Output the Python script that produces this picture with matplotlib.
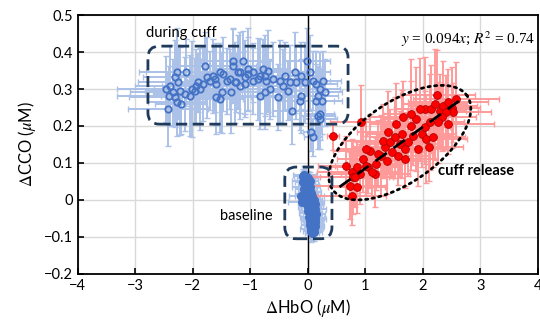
import numpy as np
import matplotlib as mpl
mpl.use('Agg')
import matplotlib.pyplot as plt
from matplotlib.patches import FancyBboxPatch

plt.rcParams['font.family'] = ['Lato', 'DejaVu Sans']
plt.rcParams['mathtext.fontset'] = 'stix'

# during cuff (open blue circles)
cuff_x = [-2.46, -2.43, -2.41, -2.40, -2.34, -2.31, -2.31, -2.28, -2.28, -2.26,
          -2.23, -2.20, -2.14, -2.11, -2.05, -2.02, -1.97, -1.94, -1.91, -1.88,
          -1.82, -1.79, -1.76, -1.70, -1.65, -1.62, -1.59, -1.59, -1.53, -1.53,
          -1.50, -1.47, -1.41, -1.36, -1.33, -1.30, -1.30, -1.27, -1.24, -1.21,
          -1.18, -1.18, -1.13, -1.10, -1.10, -1.04, -1.04, -0.95, -0.95, -0.86,
          -0.83, -0.83, -0.78, -0.75, -0.75, -0.72, -0.69, -0.66, -0.60, -0.52,
          -0.49, -0.43, -0.40, -0.34, -0.31, -0.28, -0.23, -0.20, -0.14, -0.11,
          -0.11, -0.05, -0.02, 0.03, 0.09, 0.15, 0.15, 0.18, 0.18, 0.21,
          0.21, 0.24, 0.27, 0.30, 0.21, 0.06, 0.09]
cuff_y = [0.300, 0.246, 0.282, 0.309, 0.291, 0.332, 0.278, 0.345, 0.264, 0.318,
          0.295, 0.259, 0.286, 0.345, 0.282, 0.300, 0.295, 0.309, 0.318, 0.300,
          0.314, 0.363, 0.332, 0.322, 0.336, 0.327, 0.314, 0.278, 0.345, 0.273,
          0.291, 0.341, 0.322, 0.327, 0.291, 0.376, 0.363, 0.318, 0.318, 0.345,
          0.309, 0.345, 0.376, 0.332, 0.314, 0.354, 0.341, 0.345, 0.322, 0.327,
          0.336, 0.282, 0.354, 0.336, 0.291, 0.322, 0.349, 0.300, 0.327, 0.278,
          0.322, 0.309, 0.336, 0.295, 0.318, 0.241, 0.345, 0.318, 0.268, 0.336,
          0.282, 0.318, 0.376, 0.345, 0.322, 0.314, 0.268, 0.282, 0.228, 0.300,
          0.219, 0.268, 0.322, 0.291, 0.232, 0.183, 0.169]
cuff_xerr = [0.85, 0.70, 0.90, 0.60, 0.75, 0.55, 0.80, 0.65, 0.50, 0.70,
             0.60, 0.45, 0.55, 0.70, 0.50, 0.65, 0.40, 0.60, 0.55, 0.45,
             0.60, 0.50, 0.55, 0.40, 0.65, 0.45, 0.50, 0.60, 0.55, 0.40,
             0.50, 0.45, 0.60, 0.50, 0.45, 0.55, 0.40, 0.50, 0.60, 0.45,
             0.55, 0.40, 0.50, 0.60, 0.45, 0.55, 0.40, 0.50, 0.45, 0.55,
             0.40, 0.50, 0.45, 0.55, 0.40, 0.50, 0.45, 0.40, 0.50, 0.45,
             0.40, 0.45, 0.40, 0.35, 0.40, 0.35, 0.40, 0.35, 0.40, 0.35,
             0.30, 0.35, 0.40, 0.35, 0.30, 0.35, 0.30, 0.35, 0.30, 0.35,
             0.30, 0.35, 0.30, 0.30, 0.25, 0.15, 0.15]
cuff_yerr = [0.09, 0.10, 0.08, 0.11, 0.09, 0.10, 0.08, 0.12, 0.09, 0.10,
             0.12, 0.08, 0.10, 0.09, 0.11, 0.13, 0.09, 0.10, 0.08, 0.11,
             0.10, 0.09, 0.11, 0.08, 0.10, 0.09, 0.11, 0.10, 0.08, 0.09,
             0.11, 0.10, 0.09, 0.08, 0.11, 0.09, 0.10, 0.11, 0.08, 0.10,
             0.09, 0.11, 0.08, 0.10, 0.09, 0.11, 0.10, 0.08, 0.09, 0.11,
             0.10, 0.09, 0.08, 0.11, 0.10, 0.09, 0.11, 0.08, 0.10, 0.09,
             0.11, 0.10, 0.09, 0.08, 0.10, 0.09, 0.11, 0.10, 0.08, 0.09,
             0.10, 0.11, 0.09, 0.10, 0.08, 0.09, 0.10, 0.08, 0.09, 0.10,
             0.08, 0.09, 0.08, 0.09, 0.07, 0.05, 0.05]

# cuff release (filled red circles)
rel_x = [0.44, 0.93, 0.67, 0.76, 0.85, 0.79, 0.90, 0.73, 0.85, 0.76,
         0.96, 1.05, 1.08, 1.02, 1.17, 1.28, 1.34, 1.31, 1.43, 1.46,
         1.51, 1.60, 1.57, 1.69, 1.63, 1.74, 1.80, 1.83, 1.92, 1.98,
         2.06, 2.18, 2.03, 2.12, 2.03, 2.15, 2.21, 2.30, 2.35, 2.44,
         2.50, 2.53, 2.41, 2.33, 2.27, 2.44, 1.89, 1.80, 1.66, 1.54,
         1.69, 1.37, 1.19, 1.02, 1.11, 0.82, 2.58, 1.22, 1.40, 2.10,
         1.95, 2.25]
rel_y = [0.174, 0.210, 0.093, 0.075, 0.088, 0.061, 0.070, 0.039, 0.034, 0.012,
         0.111, 0.088, 0.133, 0.138, 0.070, 0.120, 0.142, 0.160, 0.156, 0.129,
         0.169, 0.151, 0.120, 0.138, 0.178, 0.156, 0.201, 0.174, 0.138, 0.178,
         0.165, 0.169, 0.196, 0.210, 0.246, 0.246, 0.259, 0.241, 0.255, 0.264,
         0.250, 0.237, 0.237, 0.223, 0.210, 0.205, 0.219, 0.232, 0.223, 0.205,
         0.111, 0.106, 0.097, 0.093, 0.075, 0.061, 0.273, 0.125, 0.184, 0.142,
         0.245, 0.285]
rel_xerr = [0.10, 0.55, 0.50, 0.60, 0.45, 0.70, 0.55, 0.65, 0.50, 0.60,
            0.45, 0.55, 0.65, 0.50, 0.60, 0.45, 0.55, 0.70, 0.50, 0.60,
            0.45, 0.65, 0.55, 0.50, 0.60, 0.45, 0.55, 0.65, 0.50, 0.60,
            0.70, 0.55, 0.45, 0.60, 0.50, 0.65, 0.55, 0.45, 0.60, 0.70,
            0.50, 0.65, 0.55, 0.60, 0.45, 0.80, 0.55, 0.50, 0.60, 0.45,
            0.55, 0.60, 0.50, 0.55, 0.45, 0.60, 0.75, 0.50, 0.55, 0.60,
            0.45, 0.65]
rel_yerr = [0.04, 0.10, 0.08, 0.09, 0.07, 0.10, 0.08, 0.09, 0.07, 0.08,
            0.09, 0.07, 0.10, 0.08, 0.09, 0.11, 0.08, 0.10, 0.09, 0.07,
            0.11, 0.09, 0.08, 0.10, 0.12, 0.09, 0.12, 0.08, 0.10, 0.09,
            0.12, 0.08, 0.10, 0.13, 0.14, 0.12, 0.15, 0.10, 0.12, 0.09,
            0.11, 0.08, 0.10, 0.09, 0.11, 0.08, 0.14, 0.15, 0.10, 0.11,
            0.08, 0.09, 0.07, 0.08, 0.07, 0.08, 0.10, 0.09, 0.11, 0.09,
            0.14, 0.12]

# baseline (dense blue blob)
base_x = [-0.09, -0.06, -0.03, 0.00, 0.03, -0.08, -0.05, -0.02, 0.01, 0.04,
          -0.06, -0.03, 0.00, 0.03, 0.06, -0.04, -0.01, 0.02, 0.05, 0.08,
          -0.02, 0.01, 0.04, 0.07, 0.10, 0.00, 0.03, 0.06, 0.09, 0.12,
          0.01, 0.04, 0.07, 0.10, 0.13, 0.02, 0.05, 0.08, 0.11, 0.14,
          0.03, 0.06, 0.09, 0.12, 0.04, 0.07, 0.10, 0.13, 0.05, 0.08,
          0.11, 0.06, 0.09, 0.12, 0.08, 0.11, -0.12, -0.10]
base_y = [0.065, 0.068, 0.062, 0.058, 0.050, 0.048, 0.052, 0.045, 0.040, 0.035,
          0.030, 0.035, 0.028, 0.022, 0.018, 0.015, 0.012, 0.008, 0.005, 0.010,
          -0.002, -0.005, -0.010, -0.006, 0.000, -0.018, -0.020, -0.024, -0.015, -0.012,
          -0.030, -0.034, -0.038, -0.028, -0.025, -0.045, -0.048, -0.050, -0.042, -0.038,
          -0.058, -0.062, -0.055, -0.052, -0.068, -0.072, -0.066, -0.060, -0.078, -0.080,
          -0.075, -0.085, -0.082, -0.070, -0.090, -0.086, 0.010, -0.005]
base_xerr = [0.15, 0.20, 0.12, 0.18, 0.10, 0.15, 0.22, 0.14, 0.18, 0.12,
             0.16, 0.25, 0.15, 0.20, 0.12, 0.18, 0.22, 0.14, 0.16, 0.20,
             0.12, 0.18, 0.15, 0.22, 0.14, 0.16, 0.20, 0.12, 0.18, 0.15,
             0.14, 0.20, 0.16, 0.12, 0.18, 0.15, 0.14, 0.20, 0.12, 0.16,
             0.14, 0.12, 0.18, 0.20, 0.15, 0.12, 0.16, 0.14, 0.18, 0.12,
             0.15, 0.14, 0.12, 0.16, 0.12, 0.14, 0.20, 0.24]
base_yerr = [0.020, 0.025, 0.030, 0.020, 0.025, 0.030, 0.020, 0.025, 0.030, 0.020,
             0.025, 0.030, 0.020, 0.025, 0.030, 0.020, 0.025, 0.030, 0.020, 0.025,
             0.030, 0.020, 0.025, 0.030, 0.020, 0.025, 0.030, 0.020, 0.025, 0.030,
             0.020, 0.025, 0.030, 0.020, 0.025, 0.030, 0.020, 0.025, 0.030, 0.020,
             0.025, 0.030, 0.020, 0.025, 0.030, 0.020, 0.025, 0.030, 0.025, 0.020,
             0.025, 0.030, 0.025, 0.020, 0.020, 0.025, 0.020, 0.025]

fit_x = [0.55, 2.65]
fit_y = [0.035, 0.270]

x_ticks = [-4, -3, -2, -1, 0, 1, 2, 3, 4]
y_ticks = [-0.2, -0.1, 0, 0.1, 0.2, 0.3, 0.4, 0.5]
y_labels = ['\u22120.2', '\u22120.1', '0', '0.1', '0.2', '0.3', '0.4', '0.5']
x_labels = ['\u22124', '\u22123', '\u22122', '\u22121', '0', '1', '2', '3', '4']

blue = '#4472C4'
blue_err = '#ABC1E8'
red = '#FF0000'
red_err = '#FF9A9A'
navy = '#1F3A5A'

fig = plt.figure(figsize=(5.4, 3.28), dpi=100)
ax = fig.add_axes([0.144, 0.165, 0.852, 0.789])

ax.errorbar(cuff_x, cuff_y, xerr=cuff_xerr, yerr=cuff_yerr, fmt='none',
            ecolor=blue_err, elinewidth=1.4, capsize=2, zorder=2)
ax.errorbar(base_x, base_y, xerr=base_xerr, yerr=base_yerr, fmt='none',
            ecolor=blue_err, elinewidth=1.4, capsize=2, zorder=2)
ax.errorbar(rel_x, rel_y, xerr=rel_xerr, yerr=rel_yerr, fmt='none',
            ecolor=red_err, elinewidth=1.4, capsize=2, zorder=2)

ax.plot(cuff_x, cuff_y, 'o', ms=4.6, mfc='none', mec=blue, mew=1.3, zorder=4)
ax.plot(base_x, base_y, 'o', ms=5.5, mfc=blue, mec=blue, mew=1.0, zorder=4)
ax.plot(rel_x, rel_y, 'o', ms=5.6, mfc=red, mec='#B00000', mew=0.6, zorder=4)

ax.axvline(0, color='black', lw=1.0, zorder=3)

# fitted line and dotted ellipse around cuff release
ax.plot(fit_x, fit_y, color='black', lw=2, dashes=(5, 3), zorder=5)
t = np.linspace(0, 2 * np.pi, 300)
ang = np.radians(35)
a_px, b_px = 82, 40
ex = a_px * np.cos(t) * np.cos(ang) - b_px * np.sin(t) * np.sin(ang)
ey = a_px * np.cos(t) * np.sin(ang) + b_px * np.sin(t) * np.cos(ang)
ax.plot(1.6 + ex / 57.5, 0.155 + ey / 370, color='black', lw=2,
        linestyle=(0, (0.8, 1.6)), dash_capstyle='round', zorder=5)

# dashed rounded boxes
for (x0, y0, w, h) in [(-2.78, 0.205, 3.48, 0.211), (-0.40, -0.105, 0.82, 0.194)]:
    box = FancyBboxPatch((x0, y0), w, h, boxstyle='round,pad=0,rounding_size=0.2',
                         mutation_aspect=0.155, fill=False, edgecolor=navy,
                         lw=2, linestyle=(0, (4, 2)), zorder=5)
    ax.add_patch(box)

ax.text(-2.82, 0.452, 'during cuff', fontsize=10.5, va='center', ha='left')
ax.text(-1.53, -0.043, 'baseline', fontsize=10.5, va='center', ha='left')
ax.text(2.26, 0.078, 'cuff release', fontsize=10.5, fontweight='bold',
        va='center', ha='left', zorder=6)
ax.text(3.95, 0.435, r'$y$ = 0.094$x$; $R^2$ = 0.74', fontsize=11,
        family='Liberation Serif', ha='right', va='center')

ax.set_xlim(-4, 4)
ax.set_ylim(-0.2, 0.5)
ax.set_xticks(x_ticks)
ax.set_xticklabels(x_labels)
ax.set_yticks(y_ticks)
ax.set_yticklabels(y_labels)
ax.tick_params(direction='in', length=4, width=1.2, labelsize=10.5, colors='black')
ax.grid(True, color='#D9D9D9', lw=1)
ax.set_axisbelow(True)
for s in ax.spines.values():
    s.set_linewidth(1.3)
    s.set_color('black')

ax.set_xlabel(r'$\Delta$HbO ($\mu$M)', fontsize=12, labelpad=3)
ax.set_ylabel(r'$\Delta$CCO ($\mu$M)', fontsize=12, labelpad=4)

plt.savefig('out.png', dpi=100)
plt.close()
